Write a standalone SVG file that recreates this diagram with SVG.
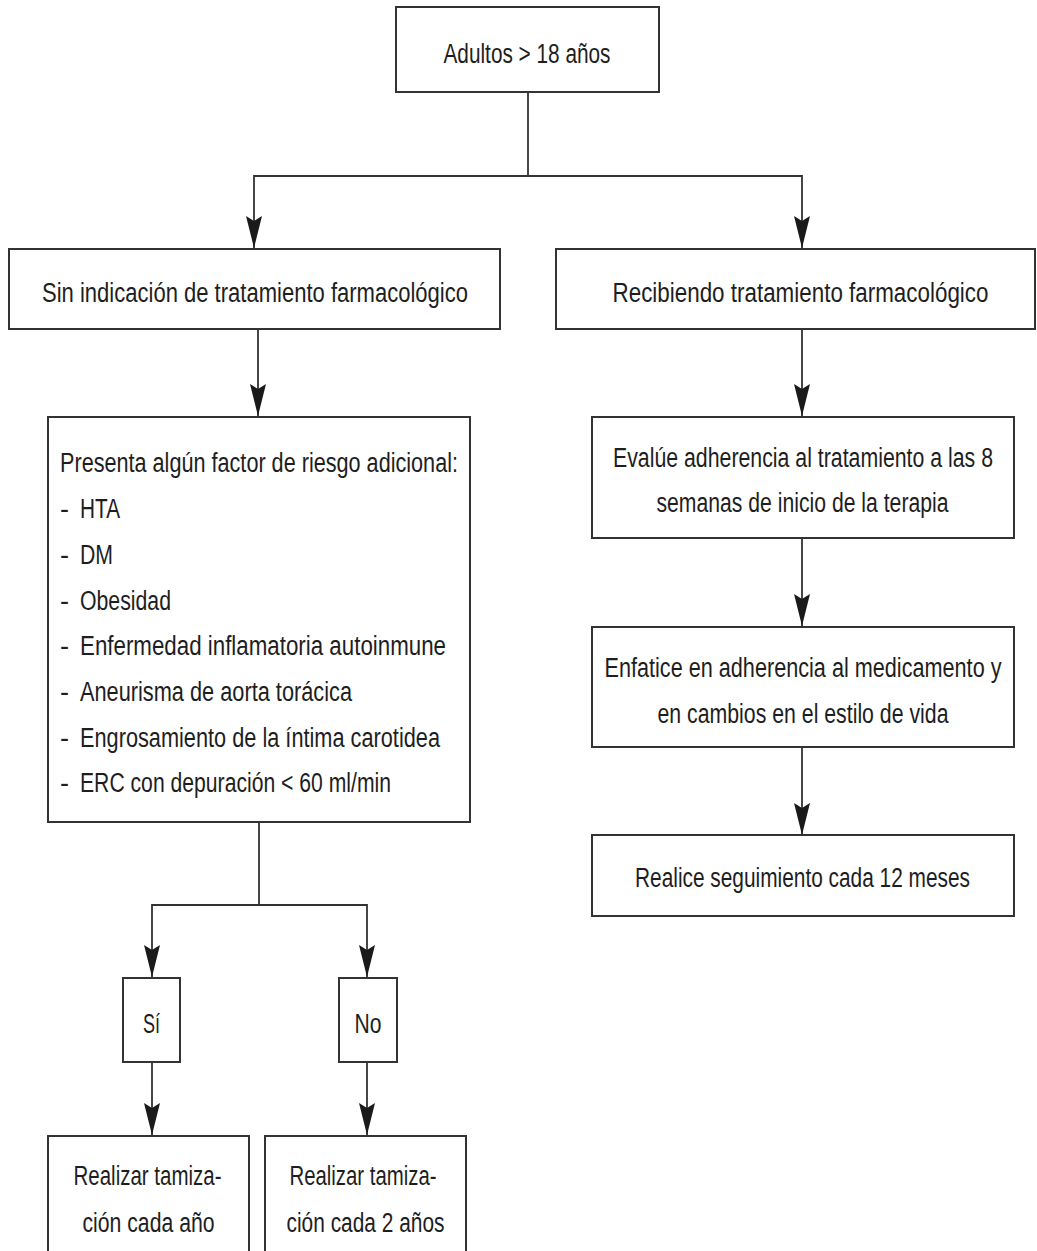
<svg xmlns="http://www.w3.org/2000/svg" width="1037" height="1251" viewBox="0 0 1037 1251">
  <style>
    .box { fill: #ffffff; stroke: #333333; stroke-width: 2; }
    .lbl { font-family: "Liberation Sans Narrow", "Liberation Sans", Arial, sans-serif; font-size: 27px; fill: #1e1e1e; }
    .c { text-anchor: middle; }
    .wire { fill: none; stroke: #333333; stroke-width: 1.8; }
    .arrow { fill: none; stroke: #333333; stroke-width: 1.8; marker-end: url(#head); }
  </style>
  <defs>
    <marker id="head" viewBox="0 0 32 16" refX="32" refY="8" markerWidth="32" markerHeight="16" markerUnits="userSpaceOnUse" orient="auto">
      <path d="M0,0 L32,8 L0,16 L5,8 Z" fill="#1a1a1a"/>
    </marker>
  </defs>
  <rect width="1037" height="1251" fill="#ffffff"/>

  <!-- connectors -->
  <g id="connectors">
    <path class="wire" d="M528,92 V176"/>
    <path class="arrow" d="M528,176 H254 V248"/>
    <path class="arrow" d="M528,176 H802 V248"/>
    <path class="arrow" d="M258,329 V416"/>
    <path class="arrow" d="M802,329 V416"/>
    <path class="arrow" d="M802,538 V626"/>
    <path class="arrow" d="M802,747 V835"/>
    <path class="wire" d="M259,822 V905"/>
    <path class="arrow" d="M259,905 H152 V977"/>
    <path class="arrow" d="M259,905 H367 V977"/>
    <path class="arrow" d="M152,1062 V1135"/>
    <path class="arrow" d="M367,1062 V1135"/>
  </g>

  <!-- nodes -->
  <g id="adultos">
    <rect class="box" x="396" y="7" width="263" height="85"/>
    <text class="lbl c" x="527" y="63" textLength="167" lengthAdjust="spacingAndGlyphs">Adultos &gt; 18 años</text>
  </g>

  <g id="sin-indicacion">
    <rect class="box" x="9" y="249" width="491" height="80"/>
    <text class="lbl c" x="255" y="302" textLength="426" lengthAdjust="spacingAndGlyphs">Sin indicación de tratamiento farmacológico</text>
  </g>

  <g id="recibiendo">
    <rect class="box" x="556" y="249" width="479" height="80"/>
    <text class="lbl c" x="800.5" y="302" textLength="376" lengthAdjust="spacingAndGlyphs">Recibiendo tratamiento farmacológico</text>
  </g>

  <g id="factores">
    <rect class="box" x="48" y="417" width="422" height="405"/>
    <text class="lbl" x="60" y="472" textLength="398" lengthAdjust="spacingAndGlyphs">Presenta algún factor de riesgo adicional:</text>
    <g class="lbl">
      <text x="60" y="518">-</text>
      <text x="60" y="564">-</text>
      <text x="60" y="610">-</text>
      <text x="60" y="655">-</text>
      <text x="60" y="701">-</text>
      <text x="60" y="747">-</text>
      <text x="60" y="792">-</text>
    </g>
    <text class="lbl" x="80" y="518" textLength="40" lengthAdjust="spacingAndGlyphs">HTA</text>
    <text class="lbl" x="80" y="564" textLength="33" lengthAdjust="spacingAndGlyphs">DM</text>
    <text class="lbl" x="80" y="610" textLength="91" lengthAdjust="spacingAndGlyphs">Obesidad</text>
    <text class="lbl" x="80" y="655" textLength="366" lengthAdjust="spacingAndGlyphs">Enfermedad inflamatoria autoinmune</text>
    <text class="lbl" x="80" y="701" textLength="272" lengthAdjust="spacingAndGlyphs">Aneurisma de aorta torácica</text>
    <text class="lbl" x="80" y="747" textLength="360" lengthAdjust="spacingAndGlyphs">Engrosamiento de la íntima carotidea</text>
    <text class="lbl" x="80" y="792" textLength="311" lengthAdjust="spacingAndGlyphs">ERC con depuración &lt; 60 ml/min</text>
  </g>

  <g id="evalue">
    <rect class="box" x="592" y="417" width="422" height="121"/>
    <text class="lbl c" x="803" y="467" textLength="380" lengthAdjust="spacingAndGlyphs">Evalúe adherencia al tratamiento a las 8</text>
    <text class="lbl c" x="802.5" y="512" textLength="292" lengthAdjust="spacingAndGlyphs">semanas de inicio de la terapia</text>
  </g>

  <g id="enfatice">
    <rect class="box" x="592" y="627" width="422" height="120"/>
    <text class="lbl c" x="803" y="677" textLength="397" lengthAdjust="spacingAndGlyphs">Enfatice en adherencia al medicamento y</text>
    <text class="lbl c" x="803" y="723" textLength="291" lengthAdjust="spacingAndGlyphs">en cambios en el estilo de vida</text>
  </g>

  <g id="seguimiento">
    <rect class="box" x="592" y="835" width="422" height="81"/>
    <text class="lbl c" x="802.5" y="887" textLength="335" lengthAdjust="spacingAndGlyphs">Realice seguimiento cada 12 meses</text>
  </g>

  <g id="si">
    <rect class="box" x="123" y="978" width="57" height="84"/>
    <text class="lbl c" x="151.5" y="1033" textLength="17" lengthAdjust="spacingAndGlyphs">Sí</text>
  </g>

  <g id="no">
    <rect class="box" x="339" y="978" width="58" height="84"/>
    <text class="lbl c" x="368" y="1033" textLength="27" lengthAdjust="spacingAndGlyphs">No</text>
  </g>

  <g id="tamizacion-anual">
    <rect class="box" x="48" y="1136" width="201" height="130"/>
    <text class="lbl c" x="147.5" y="1185" textLength="148" lengthAdjust="spacingAndGlyphs">Realizar tamiza-</text>
    <text class="lbl c" x="148.5" y="1232" textLength="132" lengthAdjust="spacingAndGlyphs">ción cada año</text>
  </g>

  <g id="tamizacion-bienal">
    <rect class="box" x="265" y="1136" width="201" height="130"/>
    <text class="lbl c" x="363" y="1185" textLength="147" lengthAdjust="spacingAndGlyphs">Realizar tamiza-</text>
    <text class="lbl c" x="365.5" y="1232" textLength="158" lengthAdjust="spacingAndGlyphs">ción cada 2 años</text>
  </g>
</svg>
